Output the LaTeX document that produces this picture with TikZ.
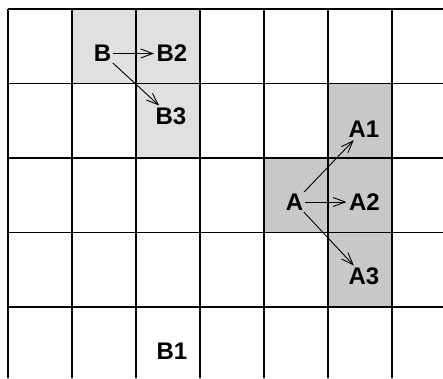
\documentclass[tikz,border=0pt]{standalone}
\usepackage{fontspec}
\setmainfont{Liberation Sans}
\usetikzlibrary{arrows.meta}
\definecolor{lightcell}{RGB}{224,224,224}
\definecolor{darkcell}{RGB}{200,200,200}
\begin{document}
\begin{tikzpicture}[x=1pt,y=-1pt,
  lbl/.style={font=\fontsize{24}{24}\selectfont\bfseries, inner sep=1.5pt},
  arr/.style={-{Straight Barb[length=12pt,width=9pt,line width=0.9pt]}, line width=0.9pt, shorten >=1pt},
  gridline/.style={line width=1.3pt}]
\useasboundingbox (0,0) rectangle (443,378);
\fill[white] (0,0) rectangle (443,378);
% shaded cells
\fill[lightcell] (72,9) rectangle (200,83.5);
\fill[lightcell] (136,83.5) rectangle (200,158);
\fill[darkcell] (328,83.5) rectangle (392,307);
\fill[darkcell] (264,158) rectangle (328,232.5);
% grid
\foreach \gx in {8,72,136,200,264,328,392}
  \draw[gridline] (\gx,9) -- (\gx,378);
\foreach \gy in {9,83.5,158,232.5,307}
  \draw[gridline] (8,\gy) -- (443,\gy);
% labels
\node[lbl] (B)  at (102.5,53.5) {B};
\node[lbl] (B2) at (172,53.5) {B2};
\node[lbl] (B3) at (171,116.5) {B3};
\node[lbl] (B1) at (172,351.5) {B1};
\node[lbl] (A)  at (294.5,202) {A};
\node[lbl] (A1) at (364,129.5) {A1};
\node[lbl] (A2) at (364.5,202) {A2};
\node[lbl] (A3) at (364,276.5) {A3};
% arrows
\draw[arr] (B) -- (B2);
\draw[arr] (B) -- (B3);
\draw[arr] (A) -- (A1);
\draw[arr] (A) -- (A2);
\draw[arr] (A) -- (A3);
\end{tikzpicture}
\end{document}
